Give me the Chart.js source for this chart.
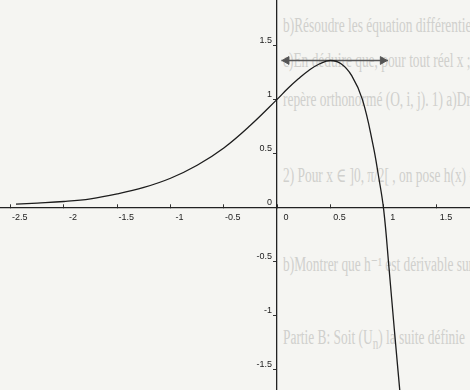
<!DOCTYPE html>
<html lang="fr">
<head>
  <meta charset="UTF-8">
  <title>Courbe de f</title>
  <script src="https://cdn.jsdelivr.net/npm/chart.js"></script>
  <style>
    html, body { margin: 0; padding: 0; }
    body { width: 470px; height: 390px; background: #f5f5f2; overflow: hidden; position: relative; }
    .fond { position: absolute; left: 0; top: 0; width: 470px; height: 390px; }
    .fond div {
      position: absolute; left: 283px; white-space: nowrap;
      font-family: "Liberation Serif", "DejaVu Serif", serif; font-size: 20px; color: #d0d0cd;
      transform: scaleX(0.67); transform-origin: left top;
    }
    canvas { position: absolute; left: 0; top: 0; }
  </style>
</head>
<body>
  <!-- texte du verso, à peine visible -->
  <div class="fond">
    <div style="top:14px">b)Résoudre les équation différentielle</div>
    <div style="top:49px">c)En déduire que, pour tout réel x ;</div>
    <div style="top:88px">repère orthonormé (O, i, j). 1) a)Dresser</div>
    <div style="top:163px">2) Pour x ∈ ]0, π/2[ , on pose h(x) =</div>
    <div style="top:252px">b)Montrer que h⁻¹ est dérivable sur</div>
    <div style="top:326px">Partie B: Soit (U<sub>n</sub>) la suite définie</div>
  </div>
  <canvas id="courbe" width="470" height="390"></canvas>
  <script>
    // points de la courbe
    const xs = [-2.45, -2.25, -2, -1.75, -1.5, -1.25, -1, -0.75, -0.5, -0.25, 0,
                0.1, 0.2, 0.3, 0.4, 0.5, 0.6, 0.7, 0.8, 0.9, 0.95, 1.0, 1.05, 1.1, 1.17];
    const ys = [0.03, 0.04, 0.055, 0.08, 0.125, 0.185, 0.27, 0.39, 0.55, 0.76, 1.0,
                1.10, 1.19, 1.27, 1.33, 1.36, 1.33, 1.22, 1.0, 0.58, 0.30, -0.02, -0.56, -1.13, -1.9];

    // tangente horizontale au sommet
    const tanX = [0.04, 1.04];
    const tanY = [1.36, 1.36];
    const flecheX = [0.09, 0.99];

    const xTicks = [-2.5, -2, -1.5, -1, -0.5, 0, 0.5, 1, 1.5];
    const yTicks = [-1.5, -1, -0.5, 0, 0.5, 1, 1.5];

    const police = { family: "Liberation Sans", size: 9 };
    const sansMarge = s => { s.paddingLeft = s.paddingRight = s.paddingTop = s.paddingBottom = 0; };

    new Chart(document.getElementById("courbe"), {
      type: "scatter",
      data: {
        datasets: [
          {
            data: xs.map((x, i) => ({ x: x, y: ys[i] })),
            showLine: true,
            borderColor: "#1c1c1c",
            borderWidth: 1.3,
            pointRadius: 0,
            tension: 0.4
          },
          {
            data: tanX.map((x, i) => ({ x: x, y: tanY[i] })),
            showLine: true,
            borderColor: "#555",
            borderWidth: 1.6,
            pointRadius: 0
          },
          {
            data: flecheX.map(x => ({ x: x, y: tanY[0] })),
            showLine: false,
            pointStyle: "triangle",
            rotation: [270, 90],
            pointRadius: 4.5,
            backgroundColor: "#555",
            borderColor: "#555",
            borderWidth: 1
          }
        ]
      },
      options: {
        responsive: false,
        animation: false,
        layout: { padding: 0, autoPadding: false },
        plugins: { legend: { display: false }, tooltip: { enabled: false } },
        scales: {
          x: {
            type: "linear",
            min: -2.6,
            max: 1.81,
            position: { y: 0 },
            afterBuildTicks: s => { s.ticks = xTicks.map(v => ({ value: v })); },
            afterFit: sansMarge,
            grid: { display: true, drawOnChartArea: false, drawTicks: true, tickLength: -4, tickColor: "#333" },
            border: { display: true, color: "#222", width: 1.3 },
            ticks: {
              autoSkip: false, maxRotation: 0, padding: 9, labelOffset: 9,
              color: "#222", font: police, callback: v => String(v)
            }
          },
          y: {
            type: "linear",
            min: -1.69,
            max: 1.92,
            position: { x: 0 },
            afterBuildTicks: s => { s.ticks = yTicks.map(v => ({ value: v })); },
            afterFit: sansMarge,
            grid: { display: true, drawOnChartArea: false, drawTicks: true, tickLength: 3, tickColor: "#333" },
            border: { display: true, color: "#222", width: 1.3 },
            ticks: {
              autoSkip: false, labelOffset: -5,
              color: "#222", font: police, callback: v => String(v) + "  "
            }
          }
        }
      }
    });
  </script>
</body>
</html>
